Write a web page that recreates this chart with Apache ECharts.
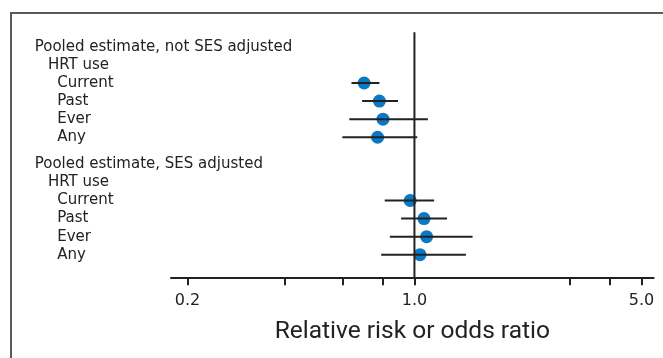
<!DOCTYPE html>
<html>
<head>
<meta charset="utf-8">
<script src="https://cdn.jsdelivr.net/npm/echarts@6/dist/echarts.min.js"></script>
<style>
  html, body { margin: 0; padding: 0; background: #ffffff; }
  #chart { width: 663px; height: 358px; }
</style>
</head>
<body>
<div id="chart"></div>
<script>
// ---- data ----
const groupTitles = ['Pooled estimate, not SES adjusted', 'Pooled estimate, SES adjusted'];
const groupSubtitle = 'HRT use';
const subgroups = ['Current', 'Past', 'Ever', 'Any'];

const estNotAdj = [0.70, 0.78, 0.80, 0.77];
const loNotAdj  = [0.64, 0.69, 0.63, 0.60];
const hiNotAdj  = [0.78, 0.89, 1.10, 1.02];

const estAdj = [0.97, 1.07, 1.09, 1.04];
const loAdj  = [0.81, 0.91, 0.84, 0.79];
const hiAdj  = [1.15, 1.26, 1.51, 1.44];

const xTickValues  = [0.2, 0.4, 0.6, 0.8, 1.0, 3, 4, 5];
const xLabelValues = [0.2, 1.0, 5.0];
const xAxisTitle = 'Relative risk or odds ratio';
const referenceValue = 1.0;

// ---- build rows ----
const groupStep = 6.5;
const rows = [];      // {pos, text, level}
const points = [];    // [est, pos]
const bars = [];      // [lo, hi, pos]
const groups = [
  { est: estNotAdj, lo: loNotAdj, hi: hiNotAdj },
  { est: estAdj, lo: loAdj, hi: hiAdj }
];
groups.forEach((g, gi) => {
  const base = gi * groupStep;
  rows.push({ pos: base, text: groupTitles[gi], level: 0 });
  rows.push({ pos: base + 1, text: groupSubtitle, level: 1 });
  subgroups.forEach((s, si) => {
    const pos = base + 2 + si;
    rows.push({ pos: pos, text: s, level: 2 });
    points.push([g.est[si], pos]);
    bars.push([g.lo[si], g.hi[si], pos]);
  });
});
const labelMap = {};
rows.forEach(r => { labelMap[r.pos.toFixed(1)] = r; });

const chart = echarts.init(document.getElementById('chart'), null, { renderer: 'canvas' });
const labelFont = 'DejaVu Sans';
const ink = '#222222';

const option = {
  animation: false,
  backgroundColor: '#ffffff',
  graphic: [{
    type: 'rect',
    shape: { x: 11, y: 13, width: 700, height: 400 },
    style: { fill: 'none', stroke: '#5a5a5a', lineWidth: 2 },
    silent: true, z: 0
  }],
  grid: { left: 171, right: 9.4, top: 28.8, height: 248.5 },
  xAxis: {
    type: 'log',
    logBase: 10,
    min: 0.178,
    max: 5.45,
    position: 'bottom',
    axisLine: { show: true, onZero: false, lineStyle: { color: ink, width: 2 } },
    axisTick: { show: true, customValues: xTickValues, length: 8, lineStyle: { color: ink, width: 2 } },
    axisLabel: {
      show: true, customValues: xLabelValues, margin: 16,
      fontFamily: labelFont, fontSize: 16, color: ink,
      formatter: v => Number(v).toFixed(1)
    },
    splitLine: { show: false },
    minorTick: { show: false },
    name: xAxisTitle,
    nameLocation: 'middle',
    nameGap: 42,
    nameTextStyle: { fontFamily: 'Roboto', fontSize: 24.5, color: ink }
  },
  yAxis: {
    type: 'value',
    inverse: true,
    min: -1,
    max: 12.75,
    axisLine: { show: false },
    axisTick: { show: false },
    splitLine: { show: false },
    axisLabel: {
      show: true,
      customValues: rows.map(r => r.pos),
      align: 'left',
      margin: 136.3,
      fontFamily: labelFont, fontSize: 15, color: ink,
      formatter: v => {
        const r = labelMap[Number(v).toFixed(1)];
        return r ? '{l' + r.level + '|' + r.text + '}' : '';
      },
      rich: {
        l0: { fontFamily: labelFont, fontSize: 15, color: ink, padding: [0, 0, 0, 0] },
        l1: { fontFamily: labelFont, fontSize: 15, color: ink, padding: [0, 0, 0, 13.3] },
        l2: { fontFamily: labelFont, fontSize: 15, color: ink, padding: [0, 0, 0, 22.5] }
      }
    }
  },
  series: [
    {
      type: 'scatter',
      data: points,
      symbol: 'circle',
      symbolSize: 13,
      itemStyle: { color: '#0a78c2', opacity: 1 },
      z: 2
    },
    {
      type: 'custom',
      data: bars,
      z: 3,
      renderItem: (params, api) => {
        const p1 = api.coord([api.value(0), api.value(2)]);
        const p2 = api.coord([api.value(1), api.value(2)]);
        return {
          type: 'line',
          shape: { x1: p1[0], y1: p1[1], x2: p2[0], y2: p2[1] },
          style: { stroke: ink, lineWidth: 2 }
        };
      }
    },
    {
      type: 'line',
      data: [[referenceValue, -0.81], [referenceValue, 12.75]],
      showSymbol: false,
      symbol: 'none',
      lineStyle: { color: ink, width: 2 },
      z: 4
    }
  ]
};
chart.setOption(option);
</script>
</body>
</html>
